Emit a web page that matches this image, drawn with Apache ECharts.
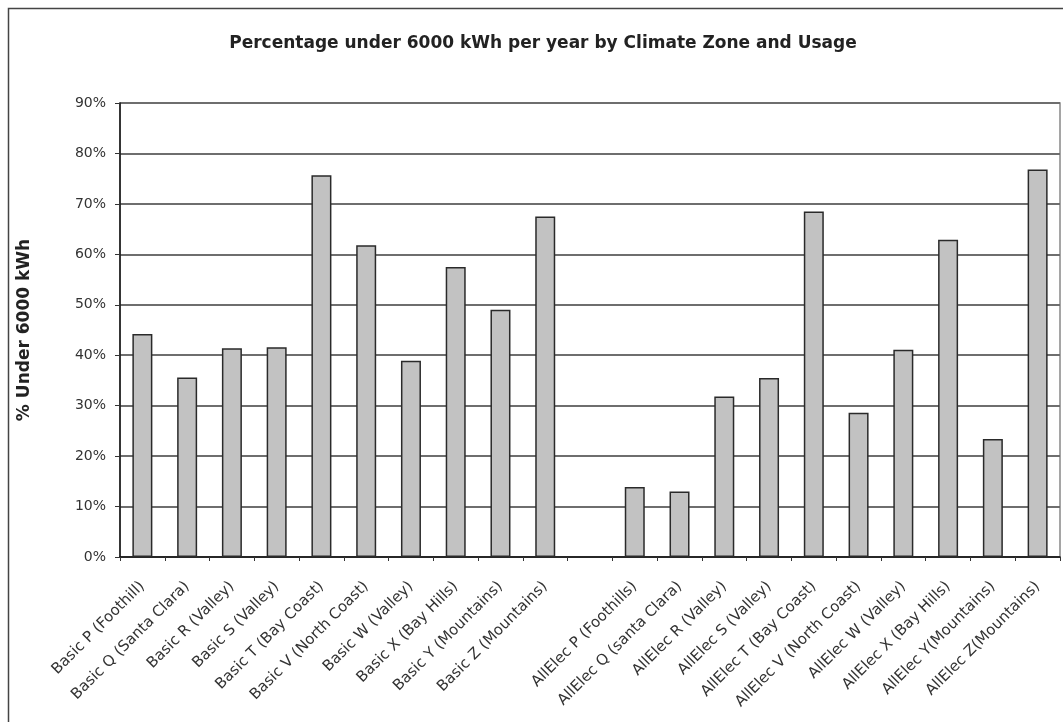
<!DOCTYPE html>
<html><head><meta charset="utf-8">
<script src="https://cdn.jsdelivr.net/npm/echarts@6/dist/echarts.min.js"></script>
<style>html,body{margin:0;padding:0;background:#fff}#c{width:1063px;height:722px}</style>
</head><body><div id="c"></div>
<script>
const categories = [
  "Basic P (Foothill)", "Basic Q (Santa Clara)", "Basic R (Valley)", "Basic S (Valley)",
  "Basic T (Bay Coast)", "Basic V (North Coast)", "Basic W (Valley)", "Basic X (Bay Hills)",
  "Basic Y (Mountains)", "Basic Z (Mountains)", "",
  "AllElec P (Foothills)", "AllElec Q (santa Clara)", "AllElec R (Valley)", "AllElec S (Valley)",
  "AllElec T (Bay Coast)", "AllElec V (North Coast)", "AllElec W (Valley)", "AllElec X (Bay Hills)",
  "AllElec Y(Mountains)", "AllElec Z(Mountains)"
];
const percentUnder6000 = [
  44.2, 35.6, 41.4, 41.6, 75.7, 61.8, 38.9, 57.5, 49.0, 67.5, null,
  13.9, 13.0, 31.8, 35.5, 68.5, 28.6, 41.1, 62.9, 23.4, 76.8
];
const yTicks = { min: 0, max: 90, interval: 10 };

const chart = echarts.init(document.getElementById('c'), null, {renderer: 'canvas'});
const font = '"DejaVu Sans", "Liberation Sans", sans-serif';
chart.setOption({
  animation: false,
  backgroundColor: '#fff',
  textStyle: { fontFamily: font },
  graphic: [{
    type: 'rect', left: 6, top: 6, z: -10,
    shape: { width: 1070, height: 730 },
    style: { fill: 'none', stroke: '#444', lineWidth: 1.5 }
  }],
  title: {
    text: 'Percentage under 6000 kWh per year by Climate Zone and Usage',
    left: 538, top: 30, textAlign: 'center',
    textStyle: { fontFamily: font, fontSize: 17, fontWeight: 'bold', color: '#222' }
  },
  grid: {
    left: 120, right: 3, top: 103, bottom: 165,
    show: true, borderColor: '#888', borderWidth: 1.5, backgroundColor: 'transparent'
  },
  xAxis: {
    type: 'category', data: categories,
    axisLine: { lineStyle: { color: '#111', width: 1.5 } },
    axisTick: { show: true, length: 4, lineStyle: { color: '#333' } },
    axisLabel: { rotate: 45, interval: 0, margin: 27, fontSize: 15, color: '#333', fontFamily: font }
  },
  yAxis: {
    type: 'value', min: yTicks.min, max: yTicks.max, interval: yTicks.interval,
    name: '% Under 6000 kWh', nameLocation: 'middle', nameGap: 87,
    nameTextStyle: { fontSize: 17, fontWeight: 'bold', color: '#222', fontFamily: font },
    axisLine: { show: true, lineStyle: { color: '#111', width: 1.5 } },
    axisTick: { show: true, length: 5, lineStyle: { color: '#333' } },
    axisLabel: { formatter: '{value}%', fontSize: 14, color: '#333', margin: 14, fontFamily: font },
    splitLine: { lineStyle: { color: '#6e6e6e', width: 2 } }
  },
  series: [{
    type: 'bar', data: percentUnder6000, barWidth: 20,
    itemStyle: { color: '#c2c2c2', borderColor: '#2a2a2a', borderWidth: 1.5 }
  }]
});
</script></body></html>
